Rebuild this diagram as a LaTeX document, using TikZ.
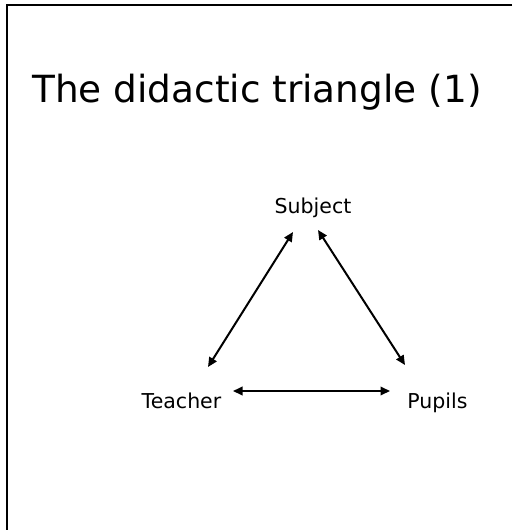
\documentclass[tikz,border=0pt]{standalone}
\usepackage{fontspec}
\setmainfont{DejaVu Sans}
\usetikzlibrary{arrows.meta}
\begin{document}
\begin{tikzpicture}[x=1pt,y=-1pt,
  frame/.style={line width=1.2pt},
  label/.style={font=\fontsize{20.5}{24}\selectfont, inner sep=0pt, anchor=base},
  title/.style={font=\fontsize{37.4}{44}\selectfont, inner sep=0pt, anchor=base west},
  link/.style={line width=2pt, {Triangle[length=9.5pt,width=8.5pt]}-{Triangle[length=9.5pt,width=8.5pt]}}]
\useasboundingbox (0,0) rectangle (512,530);
\fill[white] (0,0) rectangle (512,530);
\draw[frame] (512,5) -- (7,5) -- (7,530);
\node[title] (title) at (32,102) {The didactic triangle (1)};
\node[label] (subject) at (313,213) {Subject};
\node[label] (teacher) at (181.5,408) {Teacher};
\node[label] (pupils) at (437.5,408) {Pupils};
\coordinate (sl) at (293,232);
\coordinate (tl) at (208,367);
\coordinate (sr) at (318,230);
\coordinate (pr) at (405,365);
\coordinate (tb) at (233,391);
\coordinate (pb) at (390,391);
\draw[link] (sl) -- (tl);
\draw[link] (sr) -- (pr);
\draw[link] (tb) -- (pb);
\end{tikzpicture}
\end{document}
